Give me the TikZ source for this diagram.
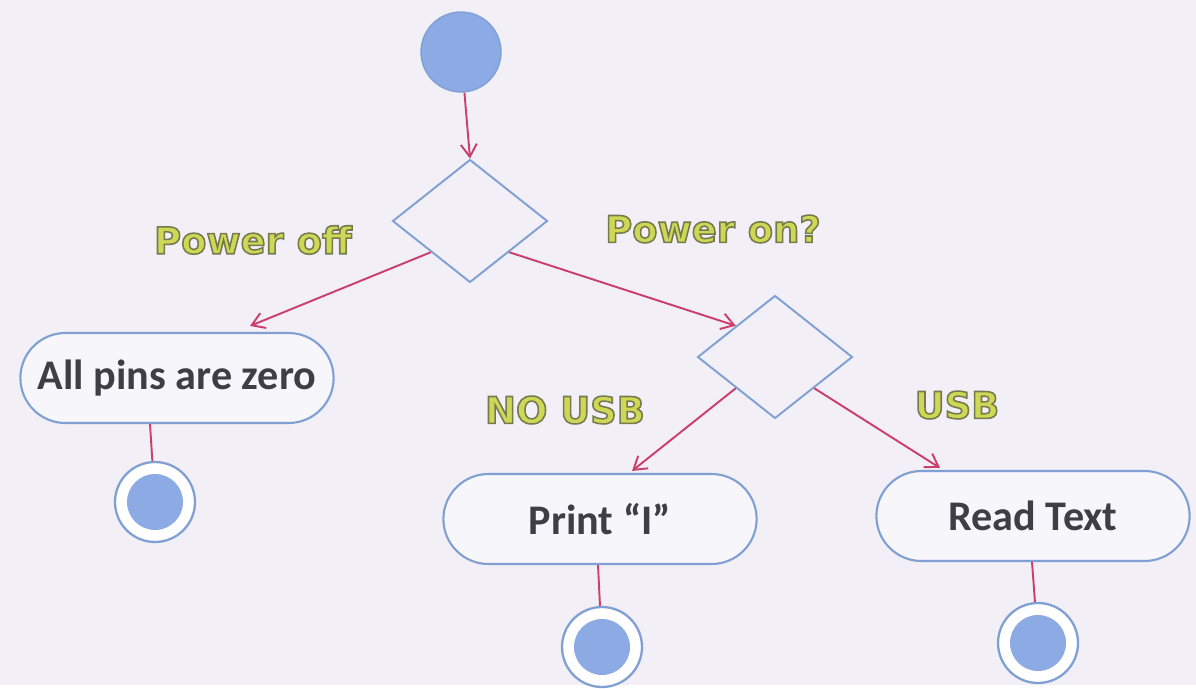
\documentclass[tikz,border=0pt]{standalone}
\usepackage{fontspec}
\setmainfont{Carlito}
\newfontfamily\guardfont{DejaVu Sans}
\usetikzlibrary{arrows.meta,calc,shapes.geometric,shapes.misc}
\definecolor{paper}{RGB}{242,240,246}
\definecolor{boxfill}{RGB}{247,246,251}
\definecolor{lineblue}{RGB}{128,160,212}
\definecolor{dotblue}{RGB}{140,170,228}
\definecolor{arrowred}{RGB}{204,62,108}
\definecolor{inkgrey}{RGB}{62,62,68}
\definecolor{guardfill}{RGB}{206,216,84}
% outlined guard text: fill stays guardfill, outline in olive grey
\newcommand{\outlined}[1]{\special{pdf:code q 0.46 0.48 0.31 RG 0.9 w 2 Tr}#1\special{pdf:code 0 Tr Q}}

\begin{document}
\begin{tikzpicture}[
  x=0.02cm,y=-0.02cm,
  action/.style={draw=lineblue,fill=boxfill,line width=1.2pt,rounded rectangle,minimum width=6.5cm,minimum height=1.8cm,font=\bfseries\fontsize{24}{28}\selectfont,text=inkgrey},
  choice/.style={draw=lineblue,diamond,line width=1.1pt,minimum width=3.1cm,minimum height=2.46cm,inner sep=0pt},
  guard/.style={font=\guardfont\bfseries\fontsize{21}{24}\selectfont,text=guardfill},
  startdot/.style={circle,fill=dotblue,draw=lineblue,line width=0.8pt,minimum size=1.6cm,inner sep=0pt},
  stopdot/.style={circle,draw=lineblue,fill=white,line width=1.3pt,minimum size=1.6cm,inner sep=0pt,
    path picture={\fill[dotblue] (path picture bounding box.center) circle (0.56cm);}},
  flow/.style={-{Straight Barb[length=2.5mm,width=3.2mm]},draw=arrowred,line width=1.1pt},
  link/.style={draw=arrowred,line width=1.1pt}]
  \fill[paper] (0,0) rectangle (1196,685);
  % start and decisions
  \node[startdot] (init) at (461,52) {};
  \node[choice] (power) at (470,221) {};
  \node[choice] (usb) at (775,357) {};
  % actions
  \node[action] (pins) at (177,378) {All pins are zero};
  \node[action] (print) at (600,519) {Print “I”};
  \node[action] (read) at (1033,516) {Read Text};
  % final states
  \node[stopdot] (endpins) at (155,502) {};
  \node[stopdot] (endprint) at (602,647) {};
  \node[stopdot] (endread) at (1038,643) {};
  % guards
  \node[guard] (off) at (253,240) {\outlined{Power off}};
  \node[guard] (on) at (713,229) {\outlined{Power on?}};
  \node[guard] (nousb) at (565,410) {\outlined{NO USB}};
  \node[guard] (hasusb) at (957,405) {\outlined{USB}};
  % transitions
  \draw[flow] (init) -- (power.north);
  \draw[flow] (power.south west) -- ($(pins.north)+(73,-6)$);
  \draw[flow] (power.south east) -- (usb.north west);
  \draw[flow] (usb.south west) -- ($(print.north)+(32,-2)$);
  \draw[flow] (usb.south east) -- ($(read.north)+(-93,-2)$);
  \draw[link] ($(pins.south)+(-27,0)$) -- (endpins);
  \draw[link] ($(print.south)+(-2,0)$) -- (endprint);
  \draw[link] ($(read.south)+(-1,0)$) -- (endread);
\end{tikzpicture}
\end{document}
